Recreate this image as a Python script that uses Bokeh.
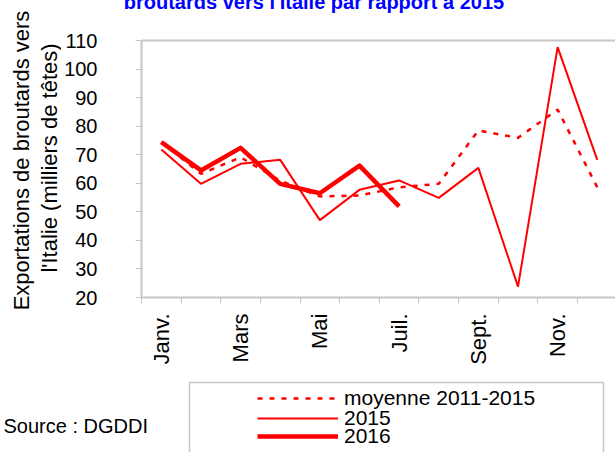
from math import pi
import numpy as np
from bokeh.plotting import figure
from bokeh.layouts import column, row
from bokeh.models import (Range1d, FixedTicker, LinearAxis, Label, Legend, LegendItem)
from bokeh.embed import file_html
from bokeh.resources import INLINE

# ---- data ----
mois = ["Janv.", "Févr.", "Mars", "Avr.", "Mai", "Juin",
        "Juil.", "Août", "Sept.", "Oct.", "Nov.", "Déc."]
moyenne_2011_2015 = [74.4, 63.3, 69.1, 60.9, 55.4, 55.7, 58.6, 59.8, 78.5, 75.9, 85.8, 58.6]
annee_2015 = [71.8, 59.8, 66.8, 68.2, 47.1, 57.7, 61.0, 54.9, 65.4, 23.8, 107.7, 68.2]
annee_2016 = [74.4, 64.5, 72.4, 59.8, 56.5, 66.2, 51.9]
y_ticks = [20, 30, 40, 50, 60, 70, 80, 90, 100, 110]
series_names = ["moyenne 2011-2015", "2015", "2016"]

FONT = "Liberation Sans"
GRAY = "#c6c6c6"
RED = "#ff0000"
STYLES = [dict(line_color=RED, line_width=2.5, line_dash="5 7"),
          dict(line_color=RED, line_width=2),
          dict(line_color=RED, line_width=4.5, line_join="round")]

x = np.arange(len(mois)) + 0.5          # category centres
bounds = list(range(len(mois) + 1))     # category boundaries
x16 = x[:len(annee_2016)]


def blank(fig):
    fig.outline_line_color = None
    fig.background_fill_color = "white"
    fig.border_fill_color = "white"
    fig.xgrid.visible = False
    fig.ygrid.visible = False
    return fig


def bare_axis(ax, width=1.5):
    ax.axis_line_color = GRAY
    ax.axis_line_width = width
    ax.major_tick_line_color = None
    ax.minor_tick_line_color = None
    ax.major_tick_out = 0
    ax.major_tick_in = 0
    ax.minor_tick_out = 0
    ax.minor_tick_in = 0
    ax.major_label_standoff = 0
    ax.major_label_text_font_size = "0px"
    return ax


# ================= y-title strip =================
t = blank(figure(width=61, height=381, output_backend="svg", toolbar_location=None,
                 x_range=Range1d(0, 1), y_range=Range1d(0, 1),
                 x_axis_type=None, y_axis_type=None,
                 min_border_left=0, min_border_right=0,
                 min_border_top=0, min_border_bottom=0))
t.frame_align = False
t.add_layout(Label(x=21, y=160, x_units="canvas", y_units="canvas", angle=pi / 2,
                   text="Exportations de broutards vers",
                   text_align="center", text_baseline="alphabetic",
                   text_font=FONT, text_font_size="22px", text_color="black"))
t.add_layout(Label(x=49, y=157.5, x_units="canvas", y_units="canvas", angle=pi / 2,
                   text="l'Italie (milliers de têtes)",
                   text_align="center", text_baseline="alphabetic",
                   text_font=FONT, text_font_size="22px", text_color="black"))

# ================= main chart =================
p = blank(figure(width=554, height=381, output_backend="svg", toolbar_location=None,
                 x_range=Range1d(0, 11.96), y_range=Range1d(20, 110),
                 x_axis_type=None, y_axis_type=None,
                 min_border_left=78, min_border_right=0,
                 min_border_top=40, min_border_bottom=84))

yaxis = LinearAxis(ticker=FixedTicker(ticks=y_ticks, minor_ticks=[]))
yaxis.axis_line_color = GRAY
yaxis.axis_line_width = 2
yaxis.major_tick_line_color = GRAY
yaxis.major_tick_out = 6
yaxis.major_tick_in = 0
yaxis.minor_tick_line_color = None
yaxis.major_label_standoff = 38
yaxis.major_label_text_font = FONT
yaxis.major_label_text_font_size = "20px"
yaxis.major_label_text_color = "black"
p.add_layout(yaxis, "left")

shown = list(x[::2])
xaxis = LinearAxis(ticker=FixedTicker(ticks=shown, minor_ticks=bounds))
xaxis.major_label_overrides = {float(v): mois[i * 2] for i, v in enumerate(shown)}
xaxis.axis_line_color = GRAY
xaxis.axis_line_width = 2
xaxis.major_tick_line_color = None
xaxis.major_tick_out = 6
xaxis.major_tick_in = 0
xaxis.minor_tick_line_color = GRAY
xaxis.minor_tick_out = 6
xaxis.minor_tick_in = 0
xaxis.major_label_orientation = pi / 2
xaxis.major_label_standoff = 10
xaxis.major_label_text_font = FONT
xaxis.major_label_text_font_size = "22px"
xaxis.major_label_text_color = "black"
p.add_layout(xaxis, "below")

p.add_layout(bare_axis(LinearAxis(ticker=FixedTicker(ticks=[], minor_ticks=[])), 2), "above")

p.line(x, moyenne_2011_2015, **STYLES[0])
p.line(x, annee_2015, **STYLES[1])
p.line(x16, annee_2016, **STYLES[2])

p.add_layout(Label(x=313.5 - 61, y=1, x_units="canvas", y_units="canvas",
                   text="broutards vers l'Italie par rapport à 2015",
                   text_align="center", text_baseline="alphabetic",
                   text_font=FONT, text_font_size="20px", text_font_style="bold",
                   text_color="#0000ff"), "above")

# ================= legend strip =================
q = blank(figure(width=615, height=71, output_backend="svg", toolbar_location=None,
                 x_range=Range1d(0, 1), y_range=Range1d(0, 1),
                 x_axis_type=None, y_axis_type=None,
                 min_border_left=189, min_border_right=12,
                 min_border_top=1, min_border_bottom=0))
q.frame_align = False
for side in ("left", "right", "above"):
    q.add_layout(bare_axis(LinearAxis(ticker=FixedTicker(ticks=[], minor_ticks=[]))), side)

# same series drawn in the strip (they fall outside its view; only used as legend samples)
samples = [q.line(x, moyenne_2011_2015, **STYLES[0]),
           q.line(x, annee_2015, **STYLES[1]),
           q.line(x16, annee_2016, **STYLES[2])]
legend_bottoms = [42.5, 22, 4.5]     # legend rows overlap slightly, as in the source
for name, r, vy in zip(series_names, samples, legend_bottoms):
    q.add_layout(Legend(items=[LegendItem(label=name, renderers=[r])],
                        location=(68, vy), orientation="vertical",
                        glyph_width=81, glyph_height=16, label_height=16,
                        label_standoff=6, spacing=0, padding=0, margin=0,
                        border_line_color=None, background_fill_alpha=0,
                        label_text_font=FONT, label_text_font_size="21px",
                        label_text_color="black"))

q.add_layout(Label(x=3, y=44, x_units="canvas", y_units="canvas",
                   text="Source : DGDDI", text_align="left", text_baseline="alphabetic",
                   text_font=FONT, text_font_size="20px", text_color="black"), "left")

layout = column(row(t, p, spacing=0), q, spacing=0)
open("out.html", "w").write(file_html(layout, INLINE))
